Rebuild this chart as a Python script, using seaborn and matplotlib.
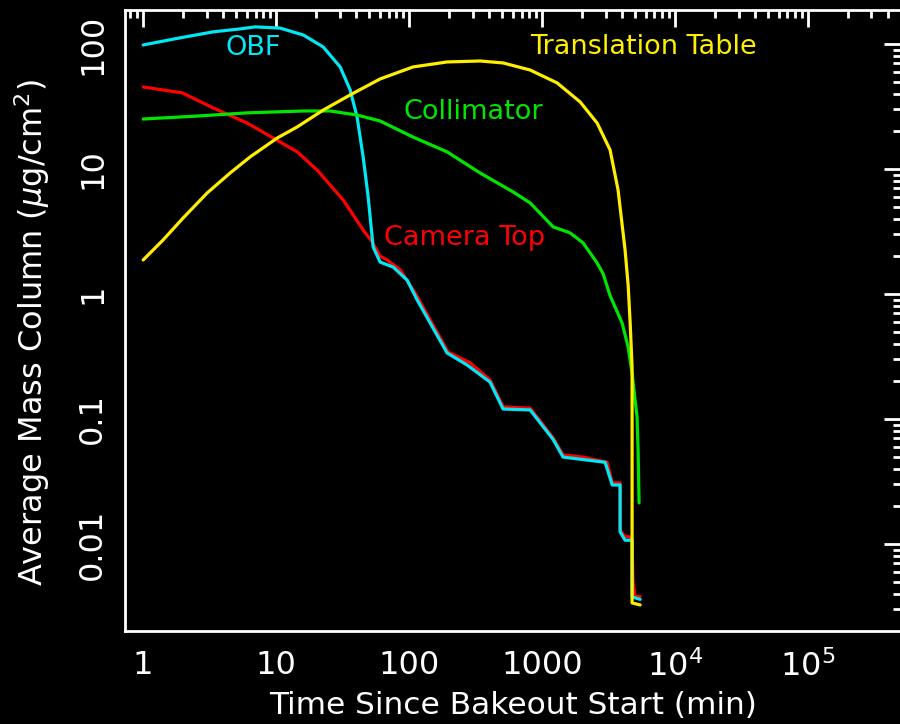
import numpy as np
import pandas as pd
import matplotlib
matplotlib.use("Agg")
import matplotlib.pyplot as plt
import seaborn as sns
from matplotlib.ticker import LogLocator, NullFormatter, FixedLocator

# ---- data (time in minutes, mass column in ug/cm^2) ----
series_names = ["Camera Top", "OBF", "Collimator", "Translation Table"]

cam_t = [1.0, 1.97, 3.36, 6.05, 9.49, 14.4, 20.3, 31.9, 45.1, 52.7, 60.5, 68.3, 85.6, 111, 196, 288, 406,
         509, 813, 1211, 1438, 2034, 3084, 3370, 3860, 3860, 4206, 4510, 4750, 4830, 5003, 5460]
cam_m = [45.3, 40.6, 30.8, 23.3, 17.7, 13.7, 9.82, 5.65, 3.25, 2.61, 2.01, 1.87, 1.56, 1.02, 0.344, 0.281,
         0.205, 0.125, 0.122, 0.0705, 0.0515, 0.0495, 0.045, 0.0308, 0.0308, 0.0129, 0.0114, 0.0114, 0.0110,
         0.0049, 0.0038, 0.0038]

obf_t = [1.0, 1.90, 3.36, 5.36, 6.95, 10.7, 16.0, 22.6, 30.3, 36.0, 40.6, 45.1, 49.2, 53.6, 60.5, 75.9,
         96.6, 115, 193, 273, 406, 509, 813, 1211, 1438, 2034, 2977, 3370, 3860, 3860, 4206, 4590, 4750,
         4750, 5460]
obf_m = [98.2, 112, 125, 132, 137, 134, 118, 94.6, 65.5, 42.9, 26.1, 12.5, 5.97, 2.38, 1.80, 1.64,
         1.29, 0.895, 0.337, 0.270, 0.197, 0.120, 0.118, 0.0685, 0.0495, 0.0473, 0.045, 0.0296, 0.0296,
         0.0125, 0.0107, 0.0107, 0.0107, 0.00377, 0.0036]

col_t = [1.0, 2.55, 6.05, 16.0, 25.5, 40.6, 60.5, 107, 193, 342, 605, 813, 1211, 1624, 2034, 2593, 2877,
         3245, 3996, 4432, 4750, 5003, 5176, 5270, 5360]
col_m = [25.1, 26.5, 28.1, 29.1, 29.1, 27.0, 24.2, 18.0, 13.7, 9.29, 6.55, 5.35, 3.44, 3.08, 2.56, 1.77,
         1.45, 0.97, 0.586, 0.377, 0.233, 0.142, 0.104, 0.0565, 0.0213]

tt_t = [1.0, 1.41, 2.0, 3.03, 4.51, 6.38, 10.2, 14.4, 22.6, 36.0, 60.5, 107, 193, 342, 509, 813, 1297,
        1932, 2593, 3245, 3726, 4206, 4436, 4590, 4750, 4750, 5460]
tt_m = [1.87, 2.70, 4.06, 6.43, 9.29, 12.5, 17.7, 21.7, 29.6, 39.1, 52.5, 65.5, 71.8, 73.1, 70.5, 61.9,
        48.8, 34.4, 23.3, 14.2, 6.79, 2.25, 1.18, 0.60, 0.26, 0.00337, 0.00325]

colors = {"Camera Top": "#ff0000", "OBF": "#00e8f4", "Collimator": "#00e600", "Translation Table": "#ffee00"}

x_ticks = [1, 10, 100, 1000, 1e4, 1e5]
x_ticklabels = ["1", "10", "100", "1000", r"$10^4$", r"$10^5$"]
y_ticks = [0.01, 0.1, 1, 10, 100]
y_ticklabels = ["0.01", "0.1", "1", "10", "100"]

label_pos = {"OBF": (4.14, 92.9), "Translation Table": (813, 94.6),
             "Collimator": (90.2, 28.6), "Camera Top": (64.9, 2.81)}

# ---- build table ----
frames = []
for name, t, m in [("Camera Top", cam_t, cam_m), ("OBF", obf_t, obf_m),
                   ("Collimator", col_t, col_m), ("Translation Table", tt_t, tt_m)]:
    frames.append(pd.DataFrame({"t": t, "m": m, "series": name}))
df = pd.concat(frames, ignore_index=True)

sns.set_style("dark", {"axes.facecolor": "black", "figure.facecolor": "black"})
plt.rcParams["font.family"] = ["DejaVu Sans"]
plt.rcParams["text.color"] = "white"

fig = plt.figure(figsize=(9, 7.24), dpi=100, facecolor="black")
ax = fig.add_axes([125 / 900, 1 - 631 / 724, (901 - 125) / 900, (631 - 10) / 724])
ax.set_facecolor("black")

sns.lineplot(data=df, x="t", y="m", hue="series", hue_order=series_names, palette=colors,
             sort=False, estimator=None, units="series", linewidth=2.3, legend=False, ax=ax)

ax.set_xscale("log")
ax.set_yscale("log")
ax.set_xlim(0.73, 5e5)
ax.set_ylim(0.00201, 187)

ax.xaxis.set_major_locator(FixedLocator(x_ticks))
ax.set_xticklabels(x_ticklabels)
ax.yaxis.set_major_locator(FixedLocator(y_ticks))
ax.set_yticklabels(y_ticklabels)
ax.xaxis.set_minor_locator(LogLocator(base=10, subs=np.arange(2, 10), numticks=20))
ax.yaxis.set_minor_locator(LogLocator(base=10, subs=np.arange(2, 10), numticks=20))
ax.xaxis.set_minor_formatter(NullFormatter())
ax.yaxis.set_minor_formatter(NullFormatter())

ax.tick_params(which="both", direction="in", top=True, right=True, colors="white", width=2,
               labelsize=23, labelcolor="white")
ax.tick_params(which="major", length=12)
ax.tick_params(which="minor", length=6)
ax.tick_params(axis="x", which="major", pad=14)
ax.tick_params(axis="y", which="major", pad=12)
for lab in ax.get_yticklabels():
    lab.set_rotation(90)
    lab.set_va("center")

for sp in ax.spines.values():
    sp.set_color("white")
    sp.set_linewidth(2)
    sp.set_visible(True)
ax.grid(False)

ax.set_xlabel("Time Since Bakeout Start (min)", fontsize=22.5, color="white")
ax.xaxis.set_label_coords(0.5, (631 - 714) / 621, transform=ax.transAxes)
ax.xaxis.label.set_va("baseline")
ax.set_ylabel(r"Average Mass Column ($\mu$g/cm$^2$)", fontsize=23, color="white")
ax.yaxis.set_label_coords((52 - 125) / 776, (631 - 333) / 621, transform=ax.transAxes)

for name, (lx, ly) in label_pos.items():
    ax.text(lx, ly, name, color=colors[name], fontsize=19.5, ha="left", va="center")

fig.savefig("out.png", dpi=100, facecolor="black")
